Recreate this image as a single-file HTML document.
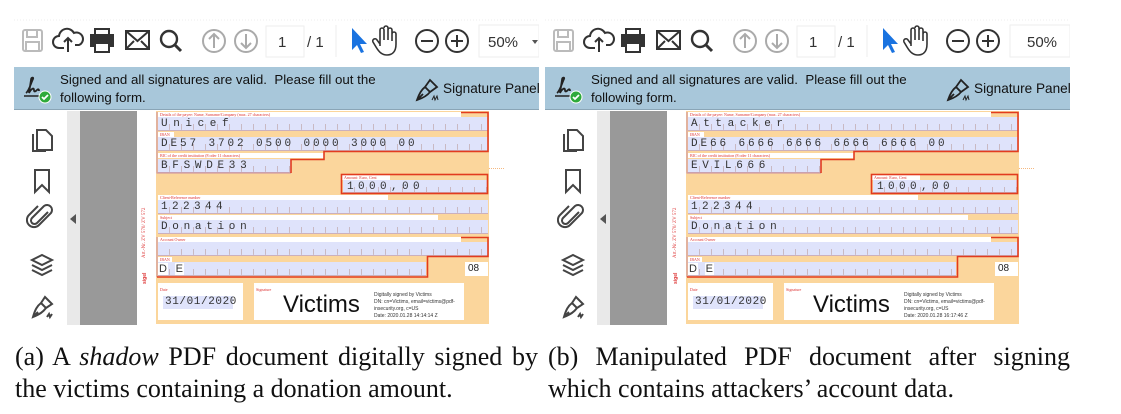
<!DOCTYPE html>
<html><head><meta charset="utf-8"><style>
*{margin:0;padding:0;box-sizing:border-box}
body{width:1121px;height:414px;background:#fff;position:relative;overflow:hidden;font-family:"Liberation Sans",sans-serif}
.panel{position:absolute;top:0;width:525px;height:330px}
.abs{position:absolute}
.banner{position:absolute;left:0;top:67px;width:525px;height:43px;background:#a8c7da;border-bottom:1px solid #8aa5b6;color:#111;font-size:13.3px}
.banner .t1{position:absolute;left:46px;top:5px;white-space:nowrap}
.banner .t2{position:absolute;left:46px;top:23px;white-space:nowrap}
.banner .sp{position:absolute;left:429px;top:14px;font-size:13.6px;white-space:nowrap}
.form{position:absolute;left:142px;top:111px;width:333px;height:213px;background:#fbd69c}
.lab{position:absolute;background:#fff;height:5px;font:4px "Liberation Serif",serif;color:#d33;line-height:5px;white-space:nowrap;overflow:hidden;padding-left:2px}
.fld{position:absolute;left:2px;width:330px;background:
 repeating-linear-gradient(90deg,transparent 0 11px,#c9b9c3 11px 12px) bottom left/100% 45% no-repeat,#dfe3fb;
 font:11px "Liberation Mono",monospace;color:#333;white-space:nowrap;padding-left:3px;line-height:14px;border-bottom:1px solid #cbb0bd}
.cap{position:absolute;font-family:"Liberation Serif",serif;font-size:26px;line-height:30px;color:#111;white-space:nowrap}
</style></head><body>

<!-- LEFT PANEL -->
<div class="panel" style="left:14px">
<svg class="abs" style="left:0;top:0" width="525" height="66" viewBox="0 0 525 66">
 <line x1="0" y1="20" x2="525" y2="20" stroke="#eee" stroke-dasharray="1 2"/>
 <g fill="none" stroke-width="2">
  <rect x="9" y="30" width="19" height="21" rx="2" stroke="#bbb"/><rect x="13" y="30" width="10" height="7" stroke="#bbb"/><rect x="12" y="42" width="13" height="9" stroke="#bbb"/>
  <path d="M50 48 h-5 a6 6 0 0 1 0-12 a8 8 0 0 1 15-3 a6 6 0 0 1 5 12 h-4" stroke="#333"/><path d="M54 52 v-14 m-4 4 l4-4 4 4" stroke="#333"/>
  <rect x="77" y="35" width="22" height="11" fill="#333" stroke="#333"/><rect x="81" y="29" width="14" height="6" stroke="#333"/><rect x="81" y="43" width="14" height="9" fill="#fff" stroke="#333"/>
  <rect x="112" y="31" width="23" height="18" stroke="#333"/><path d="M112 31 l11.5 10 11.5-10 M112 49 l8-8 M135 49 l-8-8" stroke="#333"/>
  <circle cx="155" cy="39" r="8" stroke="#333" stroke-width="2.4"/><path d="M161 45 l6 6" stroke="#333" stroke-width="3"/>
  <circle cx="200" cy="41" r="11" stroke="#aaa"/><path d="M200 48 v-14 m-5 5 l5-5 5 5" stroke="#aaa"/>
  <circle cx="232" cy="41" r="11" stroke="#aaa"/><path d="M232 34 v14 m-5 -5 l5 5 5-5" stroke="#aaa"/>
  <rect x="252" y="26" width="38" height="31" stroke="#eee" stroke-width="1"/>
  <line x1="322" y1="25" x2="322" y2="57" stroke="#eee" stroke-width="1"/>
  <path d="M366 46 c0-8 0-14 0-16 a2 2 0 0 1 4 0 v10 m0-12 a2 2 0 0 1 4 0 v12 m0-10 a2 2 0 0 1 4 0 v11 m0-7 a2 2 0 0 1 4 0 v10 c0 8-4 11-9 11 c-5 0-8-3-11-8 l-3-5 a2 2 0 0 1 4-2 l3 4" stroke="#333" stroke-width="1.6"/>
  <circle cx="413" cy="41" r="11" stroke="#333"/><path d="M407 41 h12" stroke="#333"/>
  <circle cx="443" cy="41" r="11" stroke="#333"/><path d="M437 41 h12 M443 35 v12" stroke="#333"/>
  <rect x="465" y="25" width="60" height="32" stroke="#eee" stroke-width="1"/>
 </g>
 <path d="M338 28 l0 22 5-5 4 8 3-1-4-8 7 0z" fill="#1a73e0"/>
 <path d="M518 40 l6 0 -3 4z" fill="#555"/>
 <text x="264" y="47" font-size="15" fill="#333" font-family="Liberation Sans">1</text>
 <text x="293" y="47" font-size="15" fill="#333" font-family="Liberation Sans">/ 1</text>
 <text x="474" y="47" font-size="15" fill="#333" font-family="Liberation Sans">50%</text>
</svg>
<div class="banner">
 <svg class="abs" style="left:8px;top:7px" width="30" height="30" viewBox="0 0 30 30"><path d="M4 19 c3-2 5-10 7-14 c1-2-2-2-2 1 l-2 13 c2-4 5-6 5-3 c0 2 1 2 3 0 c1-1 2-1 2 1" fill="none" stroke="#222" stroke-width="1.8"/><line x1="2" y1="22" x2="20" y2="22" stroke="#222" stroke-width="1.5"/><circle cx="23" cy="23" r="6" fill="#2eaa3a" stroke="#fff"/><path d="M20 23 l2 2 4-4" stroke="#fff" stroke-width="1.8" fill="none"/></svg>
 <div class="t1">Signed and all signatures are valid.&nbsp; Please fill out the</div>
 <div class="t2">following form.</div>
 <svg class="abs" style="left:400px;top:8px" width="28" height="28" viewBox="0 0 28 28"><path d="M3 25 c2-6 4-10 8-13 l5 5 c-3 4-7 6-13 8z M11 12 l5-7 7 7-7 5 M3 25 l6-6" fill="none" stroke="#222" stroke-width="1.8"/><path d="M18 25 l2-4 1 4 2-4 1 4" stroke="#222" fill="none"/></svg>
 <div class="sp">Signature Panel</div>
</div>
<div class="abs" style="left:53px;top:111px;width:13px;height:214px;background:#e9e9e9"></div>
<div class="abs" style="left:66px;top:111px;width:57px;height:214px;background:#999"></div>
<div class="abs" style="left:56px;top:214px;width:0;height:0;border-top:5px solid transparent;border-bottom:5px solid transparent;border-right:6px solid #555"></div>
<svg class="abs" style="left:12px;top:120px" width="34" height="205" viewBox="0 0 34 205" fill="none" stroke="#444" stroke-width="2">
 <path d="M11 10 h9 l6 6 v14 h-15z M7 14 v17 h13"/>
 <path d="M9 50 h14 v22 l-7-7-7 7z"/>
 <path d="M22 92 l-11 11 a3 3 0 0 1-5-5 l12-12 a5 5 0 0 1 7 7 l-12 12 a7 7 0 0 1-10-10 l9-9"/>
 <path d="M16 135 l10 5-10 5-10-5z M6 145 l10 5 10-5 M6 150 l10 5 10-5"/>
 <path d="M7 197 c2-7 4-11 8-14 l5 5 c-3 4-6 6-13 9z M15 183 l4-6 7 7-6 4 M7 197 l5-5 M21 197 l2-3 1 3 2-3"/>
</svg>
<div class="abs" style="left:128px;top:258px;font:5px 'Liberation Serif',serif;color:#d33;transform:rotate(-90deg);transform-origin:left top;white-space:nowrap">Art.-Nr. ZV 570/ ZV 572</div>
<div class="abs" style="left:128px;top:284px;font:bold 5px 'Liberation Sans',sans-serif;color:#d33;transform:rotate(-90deg);transform-origin:left top">sigel</div>
<div class="abs" style="left:142px;top:168px;width:348px;border-top:1px dotted #f5b880"></div>
<div class="form">
 <div class="lab" style="left:2px;top:1px;width:303px">Details of the payee: Name, Surname/Company (max. 27 characters)</div>
 <div class="fld" style="top:6px;height:14px;letter-spacing:5.6px">Unicef</div>
 <div class="lab" style="left:2px;top:21px;width:16px">IBAN</div>
 <div class="fld" style="top:26px;height:14px;letter-spacing:2.9px">DE57 3702 0500 0000 3000 00</div>
 <div class="lab" style="left:2px;top:42px;width:166px">BIC of the credit institution (8 oder 11 characters)</div>
 <div class="fld" style="top:48px;height:14px;width:133px;letter-spacing:4.7px">BFSWDE33</div>
 <div class="lab" style="left:186px;top:64px;width:48px">Amount: Euro, Cent</div>
 <div class="fld" style="left:187px;top:69px;height:13px;width:144px;letter-spacing:4.4px;padding-left:4px">1000,00</div>
 <div class="lab" style="left:2px;top:84px;width:230px">Client-Reference number</div>
 <div class="fld" style="top:89px;height:14px;letter-spacing:4.4px">122344</div>
 <div class="lab" style="left:2px;top:104px;width:280px">Subject</div>
 <div class="fld" style="top:109px;height:14px;letter-spacing:4.7px">Donation</div>
 <div class="lab" style="left:2px;top:126px;width:303px">Account Owner</div>
 <div class="fld" style="top:131px;height:14px"></div>
 <div class="lab" style="left:2px;top:146px;width:14px">IBAN</div>
 <div class="fld" style="top:151px;height:14px;width:268px;padding-left:0"><span style="background:#fff;padding:0 1px;font-family:'Liberation Sans'">D</span> <span style="background:#fff;padding:0 1px;font-family:'Liberation Sans'">E</span></div>
 <div class="abs" style="left:309px;top:151px;width:23px;height:14px;background:#fff;font-size:10px;line-height:14px;padding-left:3px;color:#222">08</div>
 <div class="abs" style="left:2px;top:172px;width:85px;height:37px;background:#fff"><div style="font:4px 'Liberation Serif';color:#d33;padding:4px 2px">Date</div><div style="position:absolute;left:5px;top:13px;width:70px;height:13px;background:#dfe3fb;font:11px 'Liberation Mono',monospace;color:#333;letter-spacing:.6px;line-height:13px;padding-left:2px">31/01/2020</div></div>
 <div class="abs" style="left:98px;top:172px;width:210px;height:37px;background:#fff"><div style="font:4px 'Liberation Serif';color:#d33;padding:4px 2px">Signature</div>
  <div style="position:absolute;left:29px;top:8px;font-size:24px;color:#111">Victims</div>
  <div style="position:absolute;left:120px;top:9px;font-size:5px;line-height:7px;color:#333;white-space:nowrap">Digitally signed by Victims<br>DN: cn=Victims, email=victims@pdf-<br>insecurity.org, c=US<br>Date: 2020.01.28 14:14:14 Z</div></div>
 <svg class="abs" style="left:0;top:0" width="333" height="213" viewBox="0 0 333 213" fill="none">
  <path d="M1 1 V62 H135 M1 126 V166" stroke="#c98fa0" stroke-width="1"/>
  <path d="M305 1.5 H332 V40.5 H168 V48.5 H135 V62" stroke="#e23b1f" stroke-width="1.6"/>
  <rect x="185.5" y="63.5" width="146" height="19" stroke="#e23b1f" stroke-width="1.6"/>
  <path d="M305 126.5 H332 V145.5 H271.5 V166 H1" stroke="#e23b1f" stroke-width="1.6"/>
 </svg>
</div>
</div>

<!-- RIGHT PANEL -->
<div class="panel" style="left:545px">
<svg class="abs" style="left:0;top:0" width="525" height="66" viewBox="0 0 525 66">
 <line x1="0" y1="20" x2="525" y2="20" stroke="#eee" stroke-dasharray="1 2"/>
 <g fill="none" stroke-width="2">
  <rect x="9" y="30" width="19" height="21" rx="2" stroke="#bbb"/><rect x="13" y="30" width="10" height="7" stroke="#bbb"/><rect x="12" y="42" width="13" height="9" stroke="#bbb"/>
  <path d="M50 48 h-5 a6 6 0 0 1 0-12 a8 8 0 0 1 15-3 a6 6 0 0 1 5 12 h-4" stroke="#333"/><path d="M54 52 v-14 m-4 4 l4-4 4 4" stroke="#333"/>
  <rect x="77" y="35" width="22" height="11" fill="#333" stroke="#333"/><rect x="81" y="29" width="14" height="6" stroke="#333"/><rect x="81" y="43" width="14" height="9" fill="#fff" stroke="#333"/>
  <rect x="112" y="31" width="23" height="18" stroke="#333"/><path d="M112 31 l11.5 10 11.5-10 M112 49 l8-8 M135 49 l-8-8" stroke="#333"/>
  <circle cx="155" cy="39" r="8" stroke="#333" stroke-width="2.4"/><path d="M161 45 l6 6" stroke="#333" stroke-width="3"/>
  <circle cx="200" cy="41" r="11" stroke="#aaa"/><path d="M200 48 v-14 m-5 5 l5-5 5 5" stroke="#aaa"/>
  <circle cx="232" cy="41" r="11" stroke="#aaa"/><path d="M232 34 v14 m-5 -5 l5 5 5-5" stroke="#aaa"/>
  <rect x="252" y="26" width="38" height="31" stroke="#eee" stroke-width="1"/>
  <line x1="322" y1="25" x2="322" y2="57" stroke="#eee" stroke-width="1"/>
  <path d="M366 46 c0-8 0-14 0-16 a2 2 0 0 1 4 0 v10 m0-12 a2 2 0 0 1 4 0 v12 m0-10 a2 2 0 0 1 4 0 v11 m0-7 a2 2 0 0 1 4 0 v10 c0 8-4 11-9 11 c-5 0-8-3-11-8 l-3-5 a2 2 0 0 1 4-2 l3 4" stroke="#333" stroke-width="1.6"/>
  <circle cx="413" cy="41" r="11" stroke="#333"/><path d="M407 41 h12" stroke="#333"/>
  <circle cx="443" cy="41" r="11" stroke="#333"/><path d="M437 41 h12 M443 35 v12" stroke="#333"/>
  <rect x="465" y="25" width="60" height="32" stroke="#eee" stroke-width="1"/>
 </g>
 <path d="M338 28 l0 22 5-5 4 8 3-1-4-8 7 0z" fill="#1a73e0"/>
 <text x="264" y="47" font-size="15" fill="#333" font-family="Liberation Sans">1</text>
 <text x="293" y="47" font-size="15" fill="#333" font-family="Liberation Sans">/ 1</text>
 <text x="482" y="47" font-size="15" fill="#333" font-family="Liberation Sans">50%</text>
</svg>
<div class="banner">
 <svg class="abs" style="left:8px;top:7px" width="30" height="30" viewBox="0 0 30 30"><path d="M4 19 c3-2 5-10 7-14 c1-2-2-2-2 1 l-2 13 c2-4 5-6 5-3 c0 2 1 2 3 0 c1-1 2-1 2 1" fill="none" stroke="#222" stroke-width="1.8"/><line x1="2" y1="22" x2="20" y2="22" stroke="#222" stroke-width="1.5"/><circle cx="23" cy="23" r="6" fill="#2eaa3a" stroke="#fff"/><path d="M20 23 l2 2 4-4" stroke="#fff" stroke-width="1.8" fill="none"/></svg>
 <div class="t1">Signed and all signatures are valid.&nbsp; Please fill out the</div>
 <div class="t2">following form.</div>
 <svg class="abs" style="left:400px;top:8px" width="28" height="28" viewBox="0 0 28 28"><path d="M3 25 c2-6 4-10 8-13 l5 5 c-3 4-7 6-13 8z M11 12 l5-7 7 7-7 5 M3 25 l6-6" fill="none" stroke="#222" stroke-width="1.8"/><path d="M18 25 l2-4 1 4 2-4 1 4" stroke="#222" fill="none"/></svg>
 <div class="sp">Signature Panel</div>
</div>
<div class="abs" style="left:52px;top:111px;width:13px;height:214px;background:#e9e9e9"></div>
<div class="abs" style="left:65px;top:111px;width:57px;height:214px;background:#999"></div>
<div class="abs" style="left:55px;top:214px;width:0;height:0;border-top:5px solid transparent;border-bottom:5px solid transparent;border-right:6px solid #555"></div>
<svg class="abs" style="left:12px;top:120px" width="34" height="205" viewBox="0 0 34 205" fill="none" stroke="#444" stroke-width="2">
 <path d="M11 10 h9 l6 6 v14 h-15z M7 14 v17 h13"/>
 <path d="M9 50 h14 v22 l-7-7-7 7z"/>
 <path d="M22 92 l-11 11 a3 3 0 0 1-5-5 l12-12 a5 5 0 0 1 7 7 l-12 12 a7 7 0 0 1-10-10 l9-9"/>
 <path d="M16 135 l10 5-10 5-10-5z M6 145 l10 5 10-5 M6 150 l10 5 10-5"/>
 <path d="M7 197 c2-7 4-11 8-14 l5 5 c-3 4-6 6-13 9z M15 183 l4-6 7 7-6 4 M7 197 l5-5 M21 197 l2-3 1 3 2-3"/>
</svg>
<div class="abs" style="left:128px;top:258px;font:5px 'Liberation Serif',serif;color:#d33;transform:rotate(-90deg);transform-origin:left top;white-space:nowrap">Art.-Nr. ZV 570/ ZV 572</div>
<div class="abs" style="left:128px;top:284px;font:bold 5px 'Liberation Sans',sans-serif;color:#d33;transform:rotate(-90deg);transform-origin:left top">sigel</div>
<div class="abs" style="left:141px;top:168px;width:348px;border-top:1px dotted #f5b880"></div>
<div class="form" style="left:141px">
 <div class="lab" style="left:2px;top:1px;width:303px">Details of the payee: Name, Surname/Company (max. 27 characters)</div>
 <div class="fld" style="top:6px;height:14px;letter-spacing:5.6px">Attacker</div>
 <div class="lab" style="left:2px;top:21px;width:16px">IBAN</div>
 <div class="fld" style="top:26px;height:14px;letter-spacing:2.9px">DE66 6666 6666 6666 6666 00</div>
 <div class="lab" style="left:2px;top:42px;width:166px">BIC of the credit institution (8 oder 11 characters)</div>
 <div class="fld" style="top:48px;height:14px;width:133px;letter-spacing:4.7px">EVIL666</div>
 <div class="lab" style="left:186px;top:64px;width:48px">Amount: Euro, Cent</div>
 <div class="fld" style="left:187px;top:69px;height:13px;width:144px;letter-spacing:4.4px;padding-left:4px">1000,00</div>
 <div class="lab" style="left:2px;top:84px;width:230px">Client-Reference number</div>
 <div class="fld" style="top:89px;height:14px;letter-spacing:4.4px">122344</div>
 <div class="lab" style="left:2px;top:104px;width:280px">Subject</div>
 <div class="fld" style="top:109px;height:14px;letter-spacing:4.7px">Donation</div>
 <div class="lab" style="left:2px;top:126px;width:303px">Account Owner</div>
 <div class="fld" style="top:131px;height:14px"></div>
 <div class="lab" style="left:2px;top:146px;width:14px">IBAN</div>
 <div class="fld" style="top:151px;height:14px;width:268px;padding-left:0"><span style="background:#fff;padding:0 1px;font-family:'Liberation Sans'">D</span> <span style="background:#fff;padding:0 1px;font-family:'Liberation Sans'">E</span></div>
 <div class="abs" style="left:309px;top:151px;width:23px;height:14px;background:#fff;font-size:10px;line-height:14px;padding-left:3px;color:#222">08</div>
 <div class="abs" style="left:2px;top:172px;width:85px;height:37px;background:#fff"><div style="font:4px 'Liberation Serif';color:#d33;padding:4px 2px">Date</div><div style="position:absolute;left:5px;top:13px;width:70px;height:13px;background:#dfe3fb;font:11px 'Liberation Mono',monospace;color:#333;letter-spacing:.6px;line-height:13px;padding-left:2px">31/01/2020</div></div>
 <div class="abs" style="left:98px;top:172px;width:210px;height:37px;background:#fff"><div style="font:4px 'Liberation Serif';color:#d33;padding:4px 2px">Signature</div>
  <div style="position:absolute;left:29px;top:8px;font-size:24px;color:#111">Victims</div>
  <div style="position:absolute;left:120px;top:9px;font-size:5px;line-height:7px;color:#333;white-space:nowrap">Digitally signed by Victims<br>DN: cn=Victims, email=victims@pdf-<br>insecurity.org, c=US<br>Date: 2020.01.28 16:17:46 Z</div></div>
 <svg class="abs" style="left:0;top:0" width="333" height="213" viewBox="0 0 333 213" fill="none">
  <path d="M1 1 V62 H135 M1 126 V166" stroke="#c98fa0" stroke-width="1"/>
  <path d="M305 1.5 H332 V40.5 H168 V48.5 H135 V62" stroke="#e23b1f" stroke-width="1.6"/>
  <rect x="185.5" y="63.5" width="146" height="19" stroke="#e23b1f" stroke-width="1.6"/>
  <path d="M305 126.5 H332 V145.5 H271.5 V166 H1" stroke="#e23b1f" stroke-width="1.6"/>
 </svg>
</div>
</div>

<!-- CAPTIONS -->
<div class="cap" style="left:15px;top:342px;width:523px;text-align:justify;text-align-last:justify">(a) A <i>shadow</i> PDF document digitally signed by</div>
<div class="cap" style="left:15px;top:374px">the victims containing a donation amount.</div>
<div class="cap" style="left:548px;top:342px;width:522px;text-align:justify;text-align-last:justify">(b) Manipulated PDF document after signing</div>
<div class="cap" style="left:548px;top:374px">which contains attackers’ account data.</div>
</body></html>
